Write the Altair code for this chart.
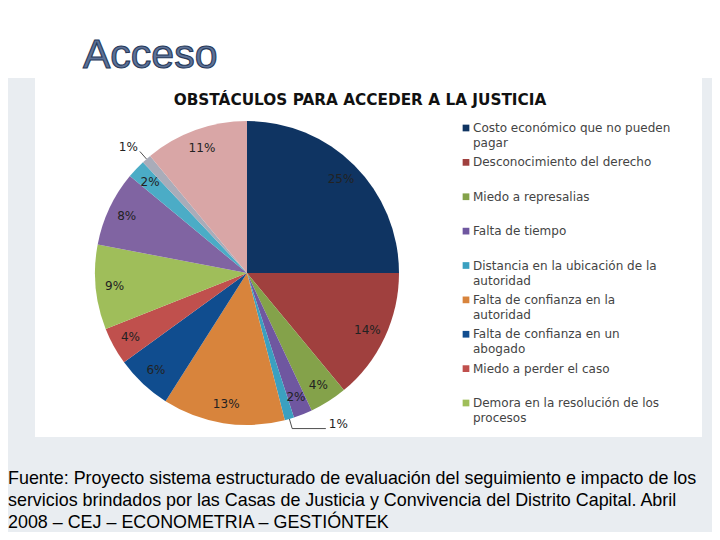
import altair as alt
import pandas as pd

# ---- data ----
categories = [
    "Costo económico que no pueden pagar",
    "Desconocimiento del derecho",
    "Miedo a represalias",
    "Falta de tiempo",
    "Distancia en la ubicación de la autoridad",
    "Falta de confianza en la autoridad",
    "Falta de confianza en un abogado",
    "Miedo a perder el caso",
    "Demora en la resolución de los procesos",
    "Otra causa 10",
    "Otra causa 11",
    "Otra causa 12",
    "Otra causa 13",
]
values = [25, 14, 4, 2, 1, 13, 6, 4, 9, 8, 2, 1, 11]
legend_labels = [
    "Costo económico que no pueden\npagar",
    "Desconocimiento del derecho",
    "Miedo a represalias",
    "Falta de tiempo",
    "Distancia en la ubicación de la\nautoridad",
    "Falta de confianza en la\nautoridad",
    "Falta de confianza en un\nabogado",
    "Miedo a perder el caso",
    "Demora en la resolución de los\nprocesos",
]
colors = ["#0f3462", "#a0403e", "#84a24a", "#6f57a0", "#3ba0c0", "#d8843c",
          "#104d8f", "#c0504d", "#9fbe5a", "#8064a2", "#4bacc6", "#a9acb9", "#d9a6a6"]
heading = "Acceso"
chart_title = "OBSTÁCULOS PARA ACCEDER A LA JUSTICIA"
source_text = ("Fuente: Proyecto sistema estructurado de evaluación del seguimiento e impacto de los\n"
               "servicios brindados por las Casas de Justicia y Convivencia del Distrito Capital. Abril\n"
               "2008 – CEJ – ECONOMETRIA – GESTIÓNTEK")

W, H = 704, 524
CX, CY, R = 239, 265, 152

df = pd.DataFrame({"idx": list(range(len(values))), "cat": categories, "value": values})
leg_df = pd.DataFrame({"idx": list(range(len(legend_labels))), "label": legend_labels})

color = alt.Color("idx:O", scale=alt.Scale(domain=list(range(len(values))), range=colors), legend=None)

one = pd.DataFrame({"a": [0]})

bg_gray = alt.Chart(one).mark_rect(color="#e9edf1").encode(
    x=alt.value(-8), x2=alt.value(712), y=alt.value(70), y2=alt.value(532))
bg_white = alt.Chart(one).mark_rect(color="#ffffff").encode(
    x=alt.value(27), x2=alt.value(694), y=alt.value(70), y2=alt.value(429))

base = (alt.Chart(df)
        .transform_window(cum="sum(value)", sort=[alt.SortField("idx")], frame=[None, 0])
        .transform_joinaggregate(total="sum(value)")
        .transform_calculate(
            t0="(datum.cum - datum.value) / datum.total * 2 * PI",
            t1="datum.cum / datum.total * 2 * PI",
            pct="datum.value + '%'")
        .transform_calculate(tm="(datum.t0 + datum.t1) / 2")
        .transform_calculate(
            ex=f"{CX} + {R} * sin(datum.tm)",
            ey=f"{CY} - {R} * cos(datum.tm)",
            mx=f"{CX} + {R + 10} * sin(datum.tm)",
            my=f"{CY} - {R + 10} * cos(datum.tm)",
            ext="max(0, (abs(cos(datum.tm)) - 0.75) / 0.25) * 40"))

pie = base.mark_arc(radius=R).encode(
    theta=alt.Theta("t0:Q", scale=None), theta2=alt.Theta2("t1:Q"),
    color=color, x=alt.value(CX), y=alt.value(CY))

inside = base.transform_filter("datum.value > 1").mark_text(
    radius=133, font="DejaVu Sans", fontSize=12, color="#222222", baseline="middle", align="center"
).encode(theta=alt.Theta("tm:Q", scale=None), text="pct:N", x=alt.value(CX), y=alt.value(CY))

outside = base.transform_filter("datum.value <= 1").transform_calculate(
    hx="datum.mx + (sin(datum.tm) > 0 ? datum.ext : -datum.ext)")

lead1 = outside.mark_rule(color="#222222", strokeWidth=0.8).encode(
    x=alt.X("ex:Q", scale=None), y=alt.Y("ey:Q", scale=None), x2="mx:Q", y2="my:Q")
lead2 = outside.mark_rule(color="#222222", strokeWidth=0.8).encode(
    x=alt.X("mx:Q", scale=None), y=alt.Y("my:Q", scale=None), x2="hx:Q", y2="my:Q")
out_right = outside.transform_filter("sin(datum.tm) > 0").mark_text(
    font="DejaVu Sans", fontSize=12, color="#222222", align="left", baseline="middle", dx=3, dy=-5
).encode(x=alt.X("hx:Q", scale=None), y=alt.Y("my:Q", scale=None), text="pct:N")
out_left = outside.transform_filter("sin(datum.tm) <= 0").mark_text(
    font="DejaVu Sans", fontSize=12, color="#222222", align="right", baseline="middle", dx=-2, dy=-4
).encode(x=alt.X("hx:Q", scale=None), y=alt.Y("my:Q", scale=None), text="pct:N")

leg_y = alt.Y("idx:Q", scale=alt.Scale(domain=[0, len(legend_labels) - 1], range=[120, 395]), axis=None)
leg_sq = alt.Chart(leg_df).mark_square(size=45, opacity=1).encode(
    x=alt.value(458), y=leg_y,
    color=alt.Color("idx:O", scale=alt.Scale(domain=list(range(len(values))), range=colors), legend=None))
leg_tx = alt.Chart(leg_df).mark_text(
    font="DejaVu Sans", fontSize=12, color="#444444", align="left", baseline="alphabetic",
    dy=4, lineBreak="\n", lineHeight=15
).encode(x=alt.value(465), y=leg_y, text="label:N")

title_df = pd.DataFrame({"t": [chart_title]})
title = alt.Chart(title_df).mark_text(
    font="DejaVu Sans", fontSize=15.3, fontWeight="bold", color="#111111", align="center",
    baseline="alphabetic").encode(x=alt.value(352), y=alt.value(97), text="t:N")

head_df = pd.DataFrame({"t": [heading]})
head = alt.Chart(head_df).mark_text(
    font="Liberation Sans", fontSize=41, color="#5d7297", stroke="#27395a", strokeWidth=1.1,
    align="left", baseline="alphabetic"
).encode(x=alt.value(75), y=alt.value(60), text="t:N")

src_df = pd.DataFrame({"t": [source_text]})
source = alt.Chart(src_df).mark_text(
    font="Liberation Sans", fontSize=17.9, color="#000000", align="left", baseline="alphabetic",
    lineBreak="\n", lineHeight=22
).encode(x=alt.value(0), y=alt.value(476), text="t:N")

chart = alt.layer(
    bg_gray, bg_white, pie, inside, lead1, lead2, out_right, out_left,
    leg_sq, leg_tx, title, head, source
).properties(
    width=W, height=H, padding=0, autosize=alt.AutoSizeParams(type="none"), background="#ffffff"
).configure_view(stroke=None)

chart.save("out.html", embed_options={"renderer": "svg", "actions": False})
